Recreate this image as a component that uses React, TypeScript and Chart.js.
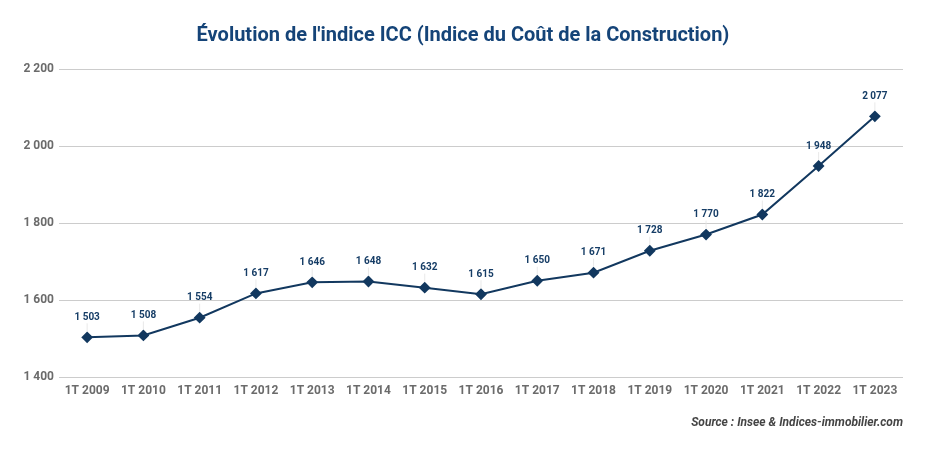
import React, { useEffect, useRef } from "react";
import { Chart, registerables } from "chart.js";

Chart.register(...registerables);

const categories = ["1T 2009","1T 2010","1T 2011","1T 2012","1T 2013","1T 2014","1T 2015","1T 2016","1T 2017","1T 2018","1T 2019","1T 2020","1T 2021","1T 2022","1T 2023"];
const icc = [1503,1508,1554,1617,1646,1648,1632,1615,1650,1671,1728,1770,1822,1948,2077];
const yMin = 1400;
const yMax = 2200;
const yStep = 200;
const titleText = "Évolution de l'indice ICC (Indice du Coût de la Construction)";
const sourceText = "Source : Insee & Indices-immobilier.com";

const fmt = (v: number) => String(Math.round(v)).replace(/\B(?=(\d{3})+(?!\d))/g, " ");

const FONT = "Roboto, 'Noto Sans', sans-serif";

const decorPlugin = {
  id: "decor",
  afterDatasetsDraw(chart: any) {
    const ctx = chart.ctx;
    const meta = chart.getDatasetMeta(0);
    ctx.save();
    meta.data.forEach((pt: any, i: number) => {
      const x = pt.x, y = pt.y;
      ctx.strokeStyle = "rgba(228,228,228,0.8)";
      ctx.lineWidth = 1;
      ctx.beginPath();
      ctx.moveTo(x, y - 6);
      ctx.lineTo(x, y - 14);
      ctx.stroke();
      ctx.fillStyle = "#163d66";
      ctx.font = `bold 10px ${FONT}`;
      ctx.textAlign = "center";
      ctx.textBaseline = "middle";
      ctx.fillText(fmt(icc[i]), x, y - 20);
    });
    ctx.restore();
  },
  afterDraw(chart: any) {
    const ctx = chart.ctx;
    ctx.save();
    ctx.fillStyle = "#154478";
    ctx.font = `bold 20px ${FONT}`;
    ctx.textAlign = "center";
    ctx.textBaseline = "middle";
    ctx.fillText(titleText, chart.width / 2, 28);
    ctx.fillStyle = "#444444";
    ctx.font = `italic bold 12px ${FONT}`;
    ctx.textAlign = "right";
    ctx.fillText(sourceText, chart.chartArea.right, 415);
    ctx.restore();
  },
};

export default function App() {
  const ref = useRef<HTMLCanvasElement | null>(null);
  useEffect(() => {
    if (!ref.current) return;
    const chart = new Chart(ref.current, {
      type: "line",
      data: {
        labels: categories,
        datasets: [
          {
            data: icc,
            borderColor: "#12385f",
            backgroundColor: "#12385f",
            borderWidth: 2,
            pointStyle: "rectRot",
            pointRadius: 4.5,
            pointHoverRadius: 4.5,
            tension: 0,
          },
        ],
      },
      options: {
        animation: false,
        responsive: false,
        maintainAspectRatio: false,
        layout: { padding: { top: 61, right: 15, left: 0, bottom: 0 } },
        plugins: { legend: { display: false }, title: { display: false }, tooltip: { enabled: false } },
        scales: {
          x: {
            offset: true,
            grid: { display: false, drawTicks: false },
            border: { display: false },
            ticks: { color: "#6b6b6b", font: { family: FONT, size: 12, weight: "bold" }, padding: 7, maxRotation: 0, autoSkip: false },
            afterFit(scale: any) { scale.height = 69; },
          },
          y: {
            min: yMin,
            max: yMax,
            grid: { color: "#cccccc", drawTicks: false },
            border: { display: false },
            ticks: { stepSize: yStep, color: "#6b6b6b", font: { family: FONT, size: 12, weight: "bold" }, padding: 5, callback: (v: any) => fmt(Number(v)) },
            afterFit(scale: any) { scale.width = 51; },
          },
        },
      },
      plugins: [decorPlugin],
    });
    return () => chart.destroy();
  }, []);
  return (
    <div style={{ width: 910, height: 438 }}>
      <canvas ref={ref} width={910} height={438} style={{ width: 910, height: 438 }} />
    </div>
  );
}
